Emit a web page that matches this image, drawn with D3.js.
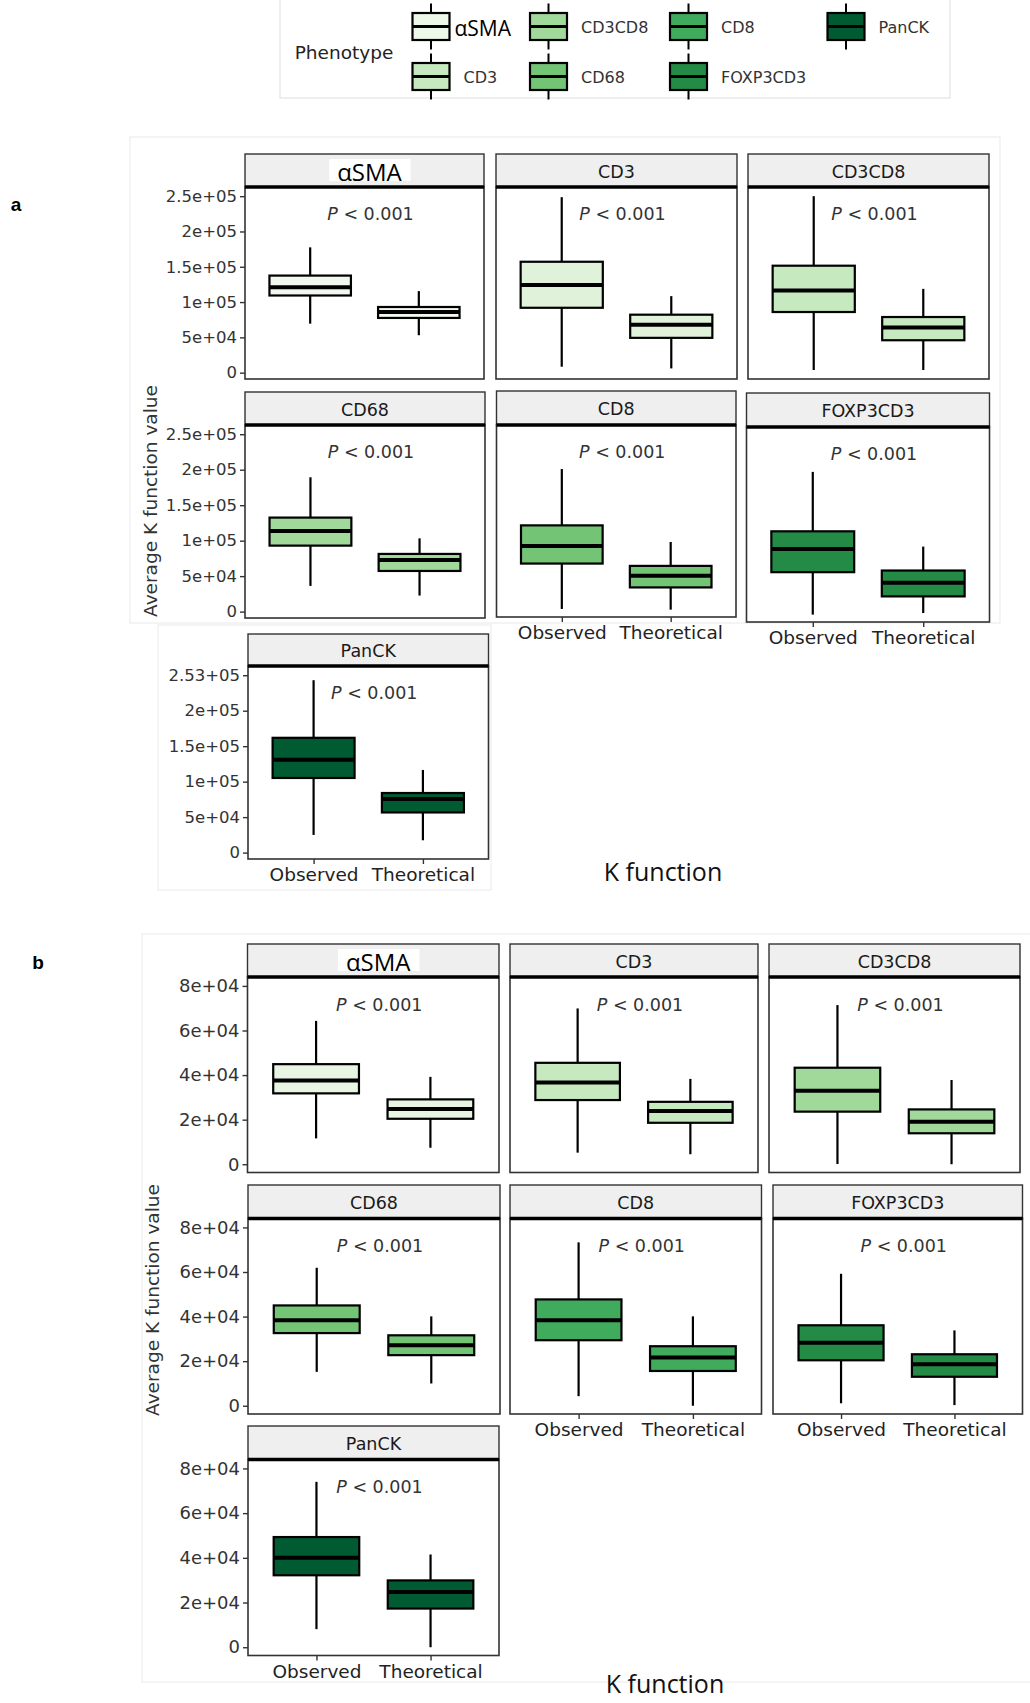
<!DOCTYPE html>
<html>
<head>
<meta charset="utf-8">
<script src="https://cdn.jsdelivr.net/npm/d3@7"></script>
<style>
  body { margin: 0; background: #fff; }
  svg { display: block; font-family: "DejaVu Sans", sans-serif; }
</style>
</head>
<body>
<div id="chart"></div>
<script>
// ---- Data -------------------------------------------------------------
const phenotypes = ['αSMA', 'CD3', 'CD3CD8', 'CD68', 'CD8', 'FOXP3CD3', 'PanCK'];
const groups = ['Observed', 'Theoretical'];

// five-number box summaries: [lower whisker, Q1, median, Q3, upper whisker]
const aObserved = [
  [69400, 109300, 121100, 137500, 177500],
  [8400, 91900, 124300, 157100, 248600],
  [3700, 85900, 116300, 151500, 250000],
  [36200, 93000, 113700, 132500, 189300],
  [2400, 66700, 91600, 120800, 200600],
  [1300, 60500, 93000, 117500, 200400],
  [24900, 105200, 130700, 161800, 243000]
];
const aTheoretical = [
  [53000, 77500, 86000, 93000, 115500],
  [6000, 49300, 68000, 82100, 108400],
  [3700, 45900, 63800, 78800, 118700],
  [22600, 57300, 72800, 81300, 103300],
  [1400, 32900, 49300, 63400, 97300],
  [3500, 26700, 45700, 62800, 96200],
  [17400, 56600, 75500, 84000, 116500]
];
const bObserved = [
  [11600, 31800, 37600, 44900, 64300],
  [5200, 28800, 36700, 45500, 69900],
  [100, 23600, 33000, 43300, 71400],
  [15200, 32600, 38300, 45000, 61900],
  [4300, 29400, 38300, 47700, 73300],
  [1100, 20400, 28300, 36100, 59200],
  [8100, 32200, 40000, 49300, 74000]
];
const bTheoretical = [
  [7400, 20400, 24800, 29100, 39200],
  [4500, 18600, 23900, 28000, 38300],
  [0, 13900, 19100, 24600, 37800],
  [10000, 22700, 27100, 31600, 40100],
  [0, 15600, 21600, 26700, 40100],
  [300, 13000, 18600, 23100, 33800],
  [0, 17300, 24700, 29900, 41500]
];

const pText = ['P', ' < 0.001'];

const aTicks = [0, 50000, 100000, 150000, 200000, 250000];
const aTickLabels = ['0', '5e+04', '1e+05', '1.5e+05', '2e+05', '2.5e+05'];
const aPanCKTickLabels = ['0', '5e+04', '1e+05', '1.5e+05', '2e+05', '2.53+05'];
const bTicks = [0, 20000, 40000, 60000, 80000];
const bTickLabels = ['0', '2e+04', '4e+04', '6e+04', '8e+04'];

// ---- Colours ----------------------------------------------------------
const legendFills = ['#edf8e9', '#c7e9c0', '#a1d99b', '#74c476', '#41ab5d', '#238b45', '#005a32'];
const aFills = ['#f1f9ee', '#e0f2da', '#c7e9c0', '#a1d99b', '#74c476', '#238b45', '#005a32'];
const bFills = ['#e8f5e3', '#c7e9c0', '#a1d99b', '#74c476', '#41ab5d', '#238b45', '#005a32'];

// ---- Panel layout (facet boxes, pixels) -------------------------------
const aLayout = [
  { x0: 245, x1: 484, top: 154, sb: 187, bottom: 379 },
  { x0: 496, x1: 737, top: 154, sb: 187, bottom: 379 },
  { x0: 748, x1: 989, top: 154, sb: 187, bottom: 379 },
  { x0: 245, x1: 485, top: 392, sb: 425, bottom: 618 },
  { x0: 496.5, x1: 736, top: 391, sb: 425, bottom: 617 },
  { x0: 746.5, x1: 989.5, top: 393, sb: 427, bottom: 622 },
  { x0: 248, x1: 488.5, top: 634, sb: 666, bottom: 859 }
];
const bLayout = [
  { x0: 247.5, x1: 499, top: 944, sb: 977, bottom: 1172.5 },
  { x0: 510, x1: 758, top: 944, sb: 977, bottom: 1172.5 },
  { x0: 769, x1: 1020, top: 944, sb: 977, bottom: 1172.5 },
  { x0: 248, x1: 500, top: 1185, sb: 1218.5, bottom: 1414 },
  { x0: 510, x1: 761.5, top: 1185, sb: 1218.5, bottom: 1414 },
  { x0: 773, x1: 1022.5, top: 1185, sb: 1218.5, bottom: 1414 },
  { x0: 248, x1: 499, top: 1426, sb: 1459.5, bottom: 1655.5 }
];

const figures = [
  {
    tag: 'a', tagPos: [16, 204],
    layout: aLayout, fills: aFills,
    stats: [aObserved, aTheoretical],
    yDomain: [-9000, 263000], pValue: 225000,
    ticks: aTicks, tickFont: 16.5,
    tickLabels: i => (i === 6 ? aPanCKTickLabels : aTickLabels),
    yTitle: [150, 501], kTitle: [663, 871]
  },
  {
    tag: 'b', tagPos: [38, 962],
    layout: bLayout, fills: bFills,
    stats: [bObserved, bTheoretical],
    yDomain: [-3700, 84000], pValue: 71500,
    ticks: bTicks, tickFont: 18,
    tickLabels: () => bTickLabels,
    yTitle: [152, 1300], kTitle: [665, 1683]
  }
];

// ---- Canvas -----------------------------------------------------------
const svg = d3.select('#chart')
  .append('svg')
  .attr('width', 1030)
  .attr('height', 1703);

// faint borders of the pasted image pieces
const frames = [
  [130, 137, 870, 486],
  [158, 625, 333, 265],
  [142, 934, 900, 748]
];
svg.append('g')
  .selectAll('rect')
  .data(frames)
  .join('rect')
  .attr('x', d => d[0]).attr('y', d => d[1])
  .attr('width', d => d[2]).attr('height', d => d[3])
  .attr('fill', 'none')
  .attr('stroke', '#e9e9e9')
  .attr('stroke-width', 1);

// ---- Legend -----------------------------------------------------------
const legend = svg.append('g');
legend.append('rect')
  .attr('x', 280).attr('y', -1).attr('width', 670).attr('height', 99)
  .attr('fill', '#fff').attr('stroke', '#dedede');
legend.append('text')
  .attr('x', 344).attr('y', 52)
  .attr('text-anchor', 'middle').attr('dominant-baseline', 'central')
  .attr('font-size', 18.5).attr('fill', '#222')
  .text('Phenotype');

const keyCols = [412.5, 530, 670, 827.5];
const keyW = 37;
const keyItems = legend.selectAll('g.key')
  .data(phenotypes)
  .join('g')
  .attr('class', 'key')
  .attr('transform', (d, i) => `translate(${keyCols[Math.floor(i / 2)]},${i % 2 === 0 ? 26.5 : 76.5})`);
keyItems.append('line')
  .attr('x1', keyW / 2).attr('x2', keyW / 2).attr('y1', -23).attr('y2', 23)
  .attr('stroke', '#000').attr('stroke-width', 2);
keyItems.append('rect')
  .attr('x', 0).attr('y', -13.5).attr('width', keyW).attr('height', 27)
  .attr('fill', (d, i) => legendFills[i])
  .attr('stroke', '#000').attr('stroke-width', 2.2);
keyItems.append('line')
  .attr('x1', 0).attr('x2', keyW).attr('y1', 0).attr('y2', 0)
  .attr('stroke', '#000').attr('stroke-width', 3);
keyItems.append('text')
  .attr('x', (d, i) => (i === 0 ? keyW + 5 : keyW + 14))
  .attr('y', 1)
  .attr('dominant-baseline', 'central')
  .attr('font-family', (d, i) => (i === 0 ? '"Open Sans", sans-serif' : null))
  .attr('font-size', (d, i) => (i === 0 ? 21 : 16))
  .attr('fill', (d, i) => (i === 0 ? '#000' : '#333'))
  .text(d => d);

// ---- Figures ----------------------------------------------------------
figures.forEach(fig => {
  svg.append('text')
    .attr('x', fig.tagPos[0]).attr('y', fig.tagPos[1])
    .attr('text-anchor', 'middle').attr('dominant-baseline', 'central')
    .attr('font-family', '"Liberation Sans", Arial, sans-serif')
    .attr('font-weight', 'bold').attr('font-size', 19)
    .text(fig.tag);

  fig.layout.forEach((p, i) => {
    const g = svg.append('g');

    const x = d3.scalePoint()
      .domain(groups)
      .range([p.x0, p.x1])
      .padding(0.6);
    const y = d3.scaleLinear()
      .domain(fig.yDomain)
      .range([p.bottom, p.sb]);
    const boxW = x.step() * 0.75;

    // strip + panel
    g.append('rect')
      .attr('x', p.x0).attr('y', p.top)
      .attr('width', p.x1 - p.x0).attr('height', p.sb - p.top)
      .attr('fill', '#efefef').attr('stroke', '#333').attr('stroke-width', 1.4);
    g.append('rect')
      .attr('x', p.x0).attr('y', p.sb)
      .attr('width', p.x1 - p.x0).attr('height', p.bottom - p.sb)
      .attr('fill', '#fff').attr('stroke', '#333').attr('stroke-width', 1.6);
    g.append('line')
      .attr('x1', p.x0).attr('x2', p.x1).attr('y1', p.sb).attr('y2', p.sb)
      .attr('stroke', '#000').attr('stroke-width', 3.5);

    // strip label
    const cx = (p.x0 + p.x1) / 2;
    const cy = (p.top + p.sb) / 2;
    if (i === 0) {
      const lbl = g.append('text')
        .attr('x', cx + 5).attr('y', cy + 1)
        .attr('text-anchor', 'middle').attr('dominant-baseline', 'central')
        .attr('font-family', '"Open Sans", sans-serif')
        .attr('font-size', 24).attr('fill', '#000')
        .text(phenotypes[i]);
      const bb = lbl.node().getBBox();
      g.insert('rect', () => lbl.node())
        .attr('x', bb.x - 8).attr('y', p.top + 5)
        .attr('width', bb.width + 16).attr('height', p.sb - p.top - 11)
        .attr('fill', '#fff');
    } else {
      g.append('text')
        .attr('x', cx).attr('y', cy + 1)
        .attr('text-anchor', 'middle').attr('dominant-baseline', 'central')
        .attr('font-size', 17.5).attr('fill', '#1a1a1a')
        .text(phenotypes[i]);
    }

    // boxes
    const boxes = g.selectAll('g.box')
      .data(groups.map((grp, j) => ({ grp, s: fig.stats[j][i] })))
      .join('g')
      .attr('class', 'box');
    boxes.append('line')
      .attr('x1', d => x(d.grp)).attr('x2', d => x(d.grp))
      .attr('y1', d => y(d.s[0])).attr('y2', d => y(d.s[4]))
      .attr('stroke', '#000').attr('stroke-width', 2.2);
    boxes.append('rect')
      .attr('x', d => x(d.grp) - boxW / 2)
      .attr('width', boxW)
      .attr('y', d => y(d.s[3]))
      .attr('height', d => y(d.s[1]) - y(d.s[3]))
      .attr('fill', fig.fills[i])
      .attr('stroke', '#000').attr('stroke-width', 2.2);
    boxes.append('line')
      .attr('x1', d => x(d.grp) - boxW / 2).attr('x2', d => x(d.grp) + boxW / 2)
      .attr('y1', d => y(d.s[2])).attr('y2', d => y(d.s[2]))
      .attr('stroke', '#000').attr('stroke-width', 4);

    // p-value label
    const pt = g.append('text')
      .attr('x', cx + 6).attr('y', y(fig.pValue))
      .attr('text-anchor', 'middle').attr('dominant-baseline', 'central')
      .attr('font-size', 17.5).attr('fill', '#333');
    pt.append('tspan').attr('font-style', 'italic').text(pText[0]);
    pt.append('tspan').text(pText[1]);

    // y axis on first column
    if (i === 0 || i === 3 || i === 6) {
      const labels = fig.tickLabels(i);
      const yAxis = d3.axisLeft(y)
        .tickValues(fig.ticks)
        .tickFormat((d, k) => labels[k])
        .tickSize(5)
        .tickPadding(3);
      const ya = g.append('g')
        .attr('transform', `translate(${p.x0},0)`)
        .call(yAxis);
      ya.select('.domain').remove();
      ya.selectAll('line').attr('stroke', '#333').attr('stroke-width', 1.4);
      ya.selectAll('text')
        .attr('font-family', '"DejaVu Sans", sans-serif')
        .attr('font-size', fig.tickFont).attr('fill', '#333');
    }

    // x axis on bottom row of each column
    if (i >= 4) {
      const xAxis = d3.axisBottom(x).tickSize(5).tickPadding(4);
      const xa = g.append('g')
        .attr('transform', `translate(0,${p.bottom})`)
        .call(xAxis);
      xa.select('.domain').remove();
      xa.selectAll('line').attr('stroke', '#333').attr('stroke-width', 1.4);
      xa.selectAll('text')
        .attr('font-family', '"DejaVu Sans", sans-serif')
        .attr('font-size', 18.5).attr('fill', '#222');
    }
  });

  // axis titles
  svg.append('text')
    .attr('transform', `translate(${fig.yTitle[0]},${fig.yTitle[1]}) rotate(-90)`)
    .attr('text-anchor', 'middle').attr('dominant-baseline', 'central')
    .attr('font-size', 18.5).attr('fill', '#333')
    .text('Average K function value');
  svg.append('text')
    .attr('x', fig.kTitle[0]).attr('y', fig.kTitle[1])
    .attr('text-anchor', 'middle').attr('dominant-baseline', 'central')
    .attr('font-family', '"Open Sans", sans-serif')
    .attr('font-size', 25).attr('fill', '#111')
    .text('K function');
});
</script>
</body>
</html>
